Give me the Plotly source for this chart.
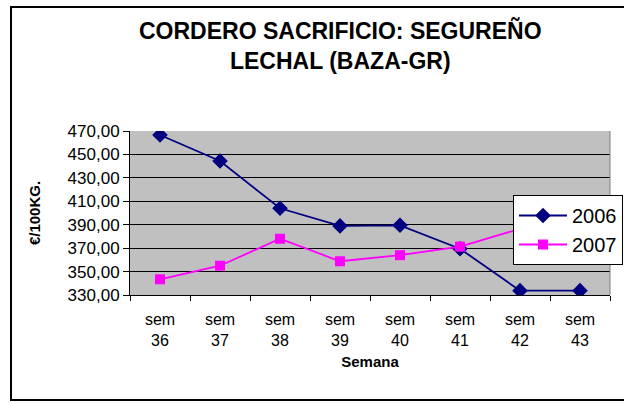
import plotly.graph_objects as go

semanas = ["sem<br>36", "sem<br>37", "sem<br>38", "sem<br>39", "sem<br>40", "sem<br>41", "sem<br>42", "sem<br>43"]
precio_2006 = [466.6, 444.4, 404.0, 389.0, 389.5, 369.5, 333.7, 333.7]
precio_2007 = [343.4, 355.0, 378.0, 358.8, 364.0, 371.3, 386.5, 390.0]
y_ticks = [330, 350, 370, 390, 410, 430, 450, 470]

fig = go.Figure()
fig.add_trace(go.Scatter(
    x=semanas, y=precio_2006, name="2006", mode="lines+markers",
    line=dict(color="#000080", width=1.8),
    marker=dict(symbol="diamond", size=12, color="#000080"),
))
fig.add_trace(go.Scatter(
    x=semanas, y=precio_2007, name="2007", mode="lines+markers",
    line=dict(color="#FF00FF", width=1.8),
    marker=dict(symbol="square", size=10, color="#FF00FF"),
))

W, H = 624, 403
L, R, T, B = 130, 14, 131, 108
pw, ph = W - L - R, H - T - B

def px(x):
    return (x - L) / pw

def py(y):
    return (H - B - y) / ph

fig.update_layout(
    width=W, height=H,
    margin=dict(l=L, r=R, t=T, b=B, autoexpand=False),
    paper_bgcolor="white",
    plot_bgcolor="#C0C0C0",
    separators=",.",
    font=dict(family="Arial, Liberation Sans, sans-serif", color="black"),
    showlegend=True,
    legend=dict(
        x=px(513), y=py(195), xanchor="left", yanchor="top",
        bgcolor="white", bordercolor="black", borderwidth=1,
        font=dict(size=20, color="black"),
        tracegroupgap=0, itemwidth=48,
    ),
    xaxis=dict(
        type="category", range=[-0.5, 7.5], automargin=False,
        showline=True, linecolor="black", linewidth=1,
        ticks="outside", tickson="boundaries", ticklen=5, tickcolor="black",
        tickfont=dict(size=16), showgrid=False, ticklabelstandoff=10,
        title=dict(text="<b>Semana</b>", font=dict(size=15), standoff=8),
    ),
    yaxis=dict(
        range=[330, 470], tickvals=y_ticks, tickformat=".2f", automargin=False,
        showline=True, linecolor="black", linewidth=1,
        ticks="outside", ticklen=6, tickcolor="black",
        tickfont=dict(size=17),
        showgrid=True, gridcolor="black", gridwidth=1,
        zeroline=False,
        title=dict(text="<b>€/100KG.</b>", font=dict(size=15), standoff=23),
    ),
    shapes=[
        dict(type="line", xref="paper", yref="paper", x0=1, x1=1, y0=0, y1=1,
             line=dict(color="#808080", width=1)),
        dict(type="rect", xref="paper", yref="paper",
             x0=px(11), x1=px(640), y0=py(400), y1=py(7),
             line=dict(color="black", width=2), layer="below"),
    ],
    annotations=[
        dict(text="<b>CORDERO SACRIFICIO: SEGUREÑO<br>LECHAL (BAZA-GR)</b>",
             xref="paper", yref="paper", x=px(340), y=py(45),
             xanchor="center", yanchor="middle", showarrow=False,
             font=dict(size=23, color="black")),
    ],
)

fig.write_html("out.html", config={"displayModeBar": False},
               post_script="document.body.style.margin='0px';")
